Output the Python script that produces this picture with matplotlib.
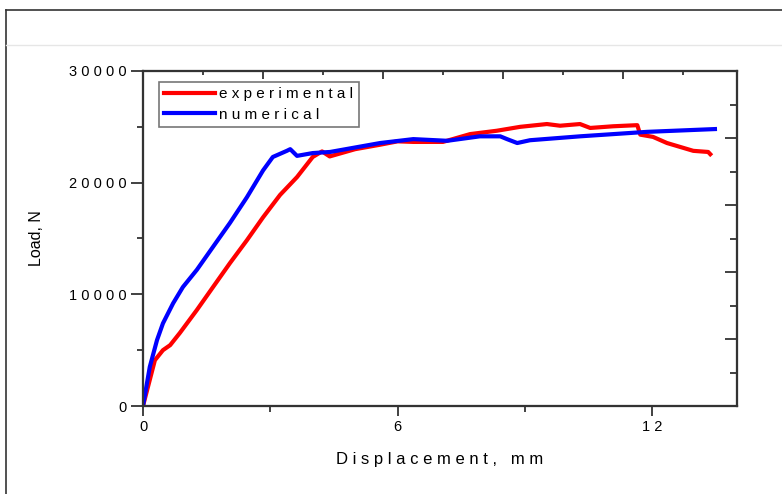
import matplotlib
matplotlib.use("Agg")
import matplotlib.pyplot as plt
from matplotlib.lines import Line2D
from matplotlib.ticker import MultipleLocator

plt.rcParams['font.family'] = ['Liberation Sans', 'DejaVu Sans']

# experimental curve (displacement mm, load N)
exp_x = [0.0, 0.28, 0.47, 0.64, 0.87, 1.27, 1.65, 2.05, 2.45, 2.83, 3.23, 3.63, 4.0, 4.22,
         4.4, 5.0, 5.59, 6.0, 6.37, 7.07, 7.71, 8.34, 8.89, 9.52, 9.83, 10.3, 10.54,
         11.08, 11.65, 11.72, 12.02, 12.35, 12.66, 12.97, 13.32, 13.37]
exp_y = [0, 4100, 5000, 5450, 6550, 8600, 10650, 12800, 14850, 16900, 18900, 20500, 22300, 22800,
         22350, 23000, 23400, 23700, 23650, 23650, 24350, 24650, 25000, 25250, 25100, 25250, 24900,
         25050, 25150, 24300, 24100, 23550, 23200, 22850, 22750, 22550]

# numerical curve
num_x = [0.0, 0.16, 0.33, 0.47, 0.71, 0.94, 1.27, 1.65, 2.05, 2.45, 2.83, 3.06, 3.39, 3.47,
         3.63, 4.0, 4.41, 5.0, 5.59, 6.37, 7.17, 7.94, 8.42, 8.58, 8.82, 9.12, 10.3, 11.88, 13.48]
num_y = [0, 3500, 5900, 7400, 9200, 10650, 12200, 14250, 16400, 18700, 21100, 22300, 22850, 23000,
         22400, 22650, 22750, 23150, 23550, 23900, 23750, 24150, 24150, 23900, 23550, 23800,
         24150, 24550, 24800]

fig = plt.figure(figsize=(7.82, 4.94), dpi=100)

# screenshot frame
fig.add_artist(Line2D([6 / 782, 6 / 782], [0, 1 - 10.5 / 494], transform=fig.transFigure, color='#333333', lw=1.2))
fig.add_artist(Line2D([6 / 782, 1], [1 - 10.5 / 494, 1 - 10.5 / 494], transform=fig.transFigure, color='#333333', lw=1.2))
fig.add_artist(Line2D([6 / 782, 1], [1 - 45 / 494, 1 - 45 / 494], transform=fig.transFigure, color='#e6e6e6', lw=1))

ax = fig.add_axes([143 / 782, 1 - 406 / 494, (737 - 143) / 782, (406 - 71) / 494])
ax.plot(exp_x, exp_y, color='#ff0000', lw=3, label='e x p e r i m e n t a l')
ax.plot(num_x, num_y, color='#0000ff', lw=3, label='n u m e r i c a l')

ax.set_xlim(0, 14)
ax.set_ylim(0, 30000)
ax.xaxis.set_major_locator(MultipleLocator(6))
ax.xaxis.set_minor_locator(MultipleLocator(3))
ax.yaxis.set_major_locator(MultipleLocator(10000))
ax.yaxis.set_minor_locator(MultipleLocator(5000))
ax.set_yticks([0, 10000, 20000, 30000], ['0', '1 0 0 0 0', '2 0 0 0 0', '3 0 0 0 0'])
ax.set_xticks([0, 6, 12], ['0', '6', '1 2'])
ax.tick_params(which='major', direction='out', length=7, width=1.3, color='#333333', labelsize=10.5, pad=3)
ax.tick_params(which='minor', direction='out', length=4, width=1.3, color='#333333')
ax.tick_params(axis='y', which='major', length=9)

for s in ax.spines.values():
    s.set_color('#333333')
    s.set_linewidth(1.5)

ax.set_xlabel('D i s p l a c e m e n t ,   m m', fontsize=12, labelpad=13)
ax.set_ylabel('Load, N', fontsize=11.5, labelpad=18)

# mirrored ticks on top and right
top = ax.twiny()
top.set_xlim(0, 14)
top.xaxis.set_major_locator(MultipleLocator(2.83))
top.xaxis.set_minor_locator(MultipleLocator(1.415))
top.tick_params(which='major', direction='in', length=6, width=1.3, color='#333333', labeltop=False)
top.tick_params(which='minor', direction='in', length=3, width=1.3, color='#333333')

right = ax.twinx()
right.set_ylim(0, 30000)
right.yaxis.set_major_locator(MultipleLocator(6000))
right.yaxis.set_minor_locator(MultipleLocator(3000))
right.tick_params(which='major', direction='in', length=9, width=1.3, color='#333333', labelright=False)
right.tick_params(which='minor', direction='in', length=5, width=1.3, color='#333333')
for a in (top, right):
    for s in a.spines.values():
        s.set_color('#333333')
        s.set_linewidth(1.5)

leg = ax.legend(loc='upper left', bbox_to_anchor=(16 / 594, 1 - 11 / 335), fontsize=11,
                handlelength=3.3, handletextpad=0.3, borderpad=0.35, labelspacing=0.42,
                fancybox=False, framealpha=1, edgecolor='#777777', borderaxespad=0)
leg.get_frame().set_linewidth(1.2)

fig.savefig('out.png', dpi=100)
